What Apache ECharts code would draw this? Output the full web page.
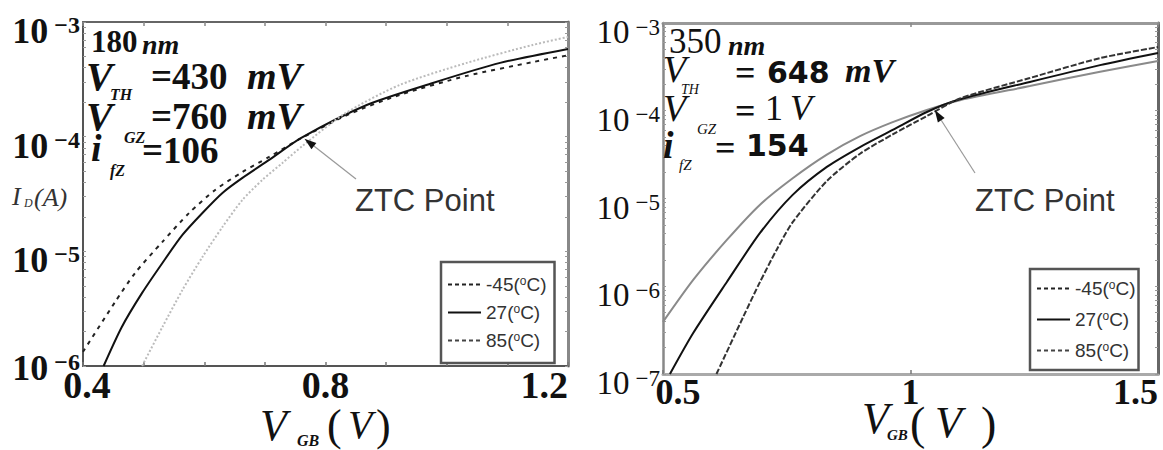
<!DOCTYPE html>
<html><head><meta charset="utf-8">
<script src="https://cdn.jsdelivr.net/npm/echarts@6/dist/echarts.min.js"></script>
<style>html,body{margin:0;padding:0;background:#fff}#c{width:1163px;height:450px}</style>
</head><body><div id="c"></div>
<script>
// ---------- data ----------
const seriesNames = ['-45', '27', '85'];
// left panel (180 nm)
const vL_m45 = [0.400,0.453,0.486,0.531,0.575,0.618,0.663,0.707,0.760,0.840,0.922,1.033,1.142,1.200];
const iL_m45 = [1.33e-6,3.62e-6,6.49e-6,1.21e-5,2.16e-5,3.43e-5,4.92e-5,6.65e-5,9.7e-5,1.58e-4,2.31e-4,3.39e-4,4.47e-4,5.13e-4];
const vL_27 = [0.434,0.464,0.4975,0.531,0.564,0.597,0.630,0.663,0.707,0.760,0.868,0.977,1.088,1.200];
const iL_27 = [1.0e-6,2.19e-6,4.34e-6,7.92e-6,1.39e-5,2.16e-5,3.23e-5,4.37e-5,6.27e-5,9.77e-5,1.89e-4,2.94e-4,4.40e-4,5.82e-4];
const vL_85 = [0.4975,0.531,0.564,0.597,0.630,0.663,0.696,0.729,0.762,0.831,0.922,1.033,1.142,1.200];
const iL_85 = [1.0e-6,2.19e-6,4.60e-6,8.93e-6,1.63e-5,2.81e-5,4.20e-5,5.90e-5,8.3e-5,1.58e-4,2.82e-4,4.40e-4,6.31e-4,7.41e-4];
// right panel (350 nm)
const vR_m45 = [0.500,0.561,0.629,0.696,0.762,0.831,0.898,0.964,1.033,1.100,1.241,1.383,1.500];
const iR_m45 = [3.92e-7,1.18e-6,3.37e-6,8.5e-6,1.70e-5,3.16e-5,5.13e-5,7.41e-5,1.02e-4,1.32e-4,1.91e-4,2.79e-4,3.69e-4];
const vR_27 = [0.514,0.561,0.629,0.696,0.762,0.831,0.898,0.964,1.033,1.100,1.241,1.383,1.500];
const iR_27 = [1.0e-7,2.93e-7,1.12e-6,4.05e-6,1.10e-5,2.29e-5,3.86e-5,6.04e-5,9.68e-5,1.35e-4,2.13e-4,3.31e-4,4.55e-4];
const vR_85 = [0.608,0.662,0.696,0.730,0.762,0.831,0.898,0.964,1.033,1.100,1.241,1.383,1.500];
const iR_85 = [1.0e-7,4.47e-7,1.12e-6,2.63e-6,5.37e-6,1.58e-5,3.24e-5,5.37e-5,8.71e-5,1.38e-4,2.36e-4,3.98e-4,5.32e-4];
// ZTC points
const ztcLeft = [0.762, 1.0e-4];
const ztcRight = [1.045, 1.1e-4];
// tick labels
const leftXTickLabels = ['0.4', '0.8', '1.2'];
const rightXTickLabels = ['0.5', '1', '1.5'];
const leftYTicks = [1e-6, 1e-5, 1e-4, 1e-3];
const leftYExp = ['\u22126', '\u22125', '\u22124', '\u22123'];
const rightYTicks = [1e-7, 1e-6, 1e-5, 1e-4, 1e-3];
const rightYExp = ['\u22127', '\u22126', '\u22125', '\u22124', '\u22123'];

// ---------- helpers ----------
const SERIF = "'Liberation Serif','Times New Roman',serif";
const SANS = "'Liberation Sans',Arial,sans-serif";
const DSANS = "'DejaVu Sans',Verdana,sans-serif";
function pairs(v, i) { return v.map((x, k) => [x, i[k]]); }
function minorTicks(lo, hi) {
  const out = [];
  for (let e = lo; e < hi; e++) for (let m = 1; m <= 9; m++) out.push(m * Math.pow(10, e));
  out.push(Math.pow(10, hi));
  return out;
}
function findIdx(val, ticks) {
  for (let k = 0; k < ticks.length; k++) if (Math.abs(Math.log10(val) - Math.log10(ticks[k])) < 1e-6) return k;
  return -1;
}
function txt(x, y, s, size, o) {
  o = o || {};
  return { type: 'text', x: x, y: y, silent: true, z: 50,
    style: { text: s, fontSize: size, fontFamily: o.family || SERIF, fontWeight: o.weight || 'normal',
      fontStyle: o.style || 'normal', fill: o.color || '#111', align: 'left', verticalAlign: 'middle',
      textAlign: 'left', textVerticalAlign: 'middle' } };
}

const chart = echarts.init(document.getElementById('c'), null, { renderer: 'svg' });

const gridL = { left: 83, top: 22, width: 485, height: 344 };
const gridR = { left: 663, top: 23, width: 495, height: 351 };

function xMain(gi, min, max, interval, col, w, labSize, rich, fmt) {
  return { type: 'value', gridIndex: gi, position: 'bottom', min: min, max: max, interval: interval,
    axisLine: { show: true, onZero: false, lineStyle: { color: col, width: w } },
    axisTick: { show: true, inside: true, length: 4, lineStyle: { color: '#777', width: 1.5 } },
    splitLine: { show: false },
    axisLabel: { show: true, margin: 0, showMinLabel: true, showMaxLabel: true,
      fontFamily: SERIF, fontWeight: 'bold', fontSize: labSize, color: '#111',
      formatter: fmt, rich: rich, alignMaxLabel: 'right' } };
}
function xTop(gi, min, max, interval, col, w) {
  return { type: 'value', gridIndex: gi, position: 'top', min: min, max: max, interval: interval,
    axisLine: { show: true, onZero: false, lineStyle: { color: col, width: w } },
    axisTick: { show: true, inside: true, length: 4, lineStyle: { color: '#888', width: 1.5 } },
    splitLine: { show: false }, axisLabel: { show: false } };
}
function yMain(gi, min, max, ticks, exps, col, w, bold, sz, ssz, minorLo, minorHi, liftMin) {
  const fw = bold ? 'bold' : 'normal';
  return { type: 'log', logBase: 10, gridIndex: gi, position: 'left', min: min, max: max,
    axisLine: { show: true, onZero: false, lineStyle: { color: col, width: w } },
    axisTick: { show: true, inside: true, length: 3, customValues: minorTicks(minorLo, minorHi), lineStyle: { color: '#999', width: 1 } },
    splitLine: { show: false },
    axisLabel: { show: true, margin: 3, customValues: ticks, showMinLabel: true, showMaxLabel: true,
      padding: [18, 0, 0, 0],
      formatter: function (v) {
        const k = findIdx(v, ticks);
        if (k < 0) return '';
        const t = '{b|10}{s|' + exps[k] + '}';
        return (k === 0 && liftMin) ? t + '\n{e| }' : t;
      },
      rich: {
        b: { fontFamily: SERIF, fontWeight: fw, fontSize: sz, color: '#111' },
        s: { fontFamily: SERIF, fontWeight: fw, fontSize: ssz, color: '#111', verticalAlign: 'top', padding: [0, 0, 0, 6] },
        e: { fontSize: 2, lineHeight: 14 }
      } } };
}
function yRight(gi, min, max, col, w, minorLo, minorHi) {
  return { type: 'log', logBase: 10, gridIndex: gi, position: 'right', min: min, max: max,
    axisLine: { show: true, onZero: false, lineStyle: { color: col, width: w } },
    axisTick: { show: true, inside: true, length: 3, customValues: minorTicks(minorLo, minorHi), lineStyle: { color: '#999', width: 1 } },
    splitLine: { show: false }, axisLabel: { show: false } };
}

function xFmt(labels) {
  return function (v) {
    const s = (Math.round(v * 10) / 10).toString();
    if (labels.indexOf(s) < 0) return '';
    return s === labels[0] ? '{l|' + s + '}' : s;
  };
}

function line(name, xi, yi, data, color, type, width) {
  return { name: name, type: 'line', xAxisIndex: xi, yAxisIndex: yi, data: data, symbol: 'none',
    showSymbol: false, smooth: 0.25, clip: true, z: 3,
    itemStyle: { color: color },
    lineStyle: { color: color, type: type, width: width } };
}

function legendCfg(left, top, gap, pad) {
  const noSym = { color: 'rgba(0,0,0,0)', borderWidth: 0, opacity: 0 };
  return { left: left, top: top, orient: 'vertical', itemWidth: 33, itemHeight: 18, itemGap: gap,
    padding: pad, borderColor: '#555', borderWidth: 2.5, backgroundColor: '#fff',
    selectedMode: false, z: 20,
    formatter: function (n) { return n + '({s|o}C)'; },
    textStyle: { fontFamily: SANS, fontSize: 19, color: '#333',
      rich: { s: { fontFamily: SANS, fontSize: 12, color: '#333', verticalAlign: 'top' } } },
    data: [
      { name: seriesNames[0], itemStyle: noSym, lineStyle: { color: '#222', type: [4, 3], width: 2 } },
      { name: seriesNames[1], itemStyle: noSym, lineStyle: { color: '#111', type: 'solid', width: 2 } },
      { name: seriesNames[2], itemStyle: noSym, lineStyle: { color: '#444', type: [4, 3], width: 2 } }
    ] };
}

const texts = [
  // left panel annotation
  txt(91, 41, '180', 31, { weight: 'bold' }),
  txt(142, 44, 'nm', 28, { weight: 'bold', style: 'italic' }),
  txt(86, 76, 'V', 40, { weight: 'bold', style: 'italic' }),
  txt(110, 94, 'TH', 16, { weight: 'bold', style: 'italic' }),
  txt(151, 76, '=430', 37, { weight: 'bold' }),
  txt(247, 76, 'mV', 38, { weight: 'bold', style: 'italic' }),
  txt(86, 116, 'V', 40, { weight: 'bold', style: 'italic' }),
  txt(124, 137, 'GZ', 16, { weight: 'bold', style: 'italic' }),
  txt(151, 116, '=760', 37, { weight: 'bold' }),
  txt(247, 116, 'mV', 38, { weight: 'bold', style: 'italic' }),
  txt(91, 148, 'i', 38, { weight: 'bold', style: 'italic' }),
  txt(110, 170, 'fZ', 16, { weight: 'bold', style: 'italic' }),
  txt(142, 150, '=106', 37, { weight: 'bold' }),
  txt(12, 196, 'I', 26, { style: 'italic', color: '#333' }),
  txt(24, 203, 'D', 12, { style: 'italic', color: '#333' }),
  txt(34, 197, '(A)', 26, { style: 'italic', color: '#333' }),
  txt(355, 200, 'ZTC Point', 31, { family: SANS, color: '#333' }),
  txt(260, 425, 'V', 44, { style: 'italic' }),
  txt(297, 440, 'GB', 16, { weight: 'bold', style: 'italic' }),
  txt(327, 425, '(', 44, {}),
  txt(348, 424, 'V', 40, { style: 'italic' }),
  txt(376, 425, ')', 44, {}),
  // right panel annotation
  txt(669, 41, '350', 35, {}),
  txt(728, 45, 'nm', 28, { weight: 'bold', style: 'italic' }),
  txt(663, 69, 'V', 38, { style: 'italic' }),
  txt(681, 89, 'TH', 14, { style: 'italic' }),
  txt(735, 73, '=', 36, { weight: 'bold' }),
  txt(767, 72, '648', 30, { family: DSANS, weight: 'bold' }),
  txt(845, 70, 'mV', 34, { weight: 'bold', style: 'italic' }),
  txt(663, 108, 'V', 38, { style: 'italic' }),
  txt(697, 129, 'GZ', 15, { style: 'italic' }),
  txt(735, 111, '=', 36, { weight: 'bold' }),
  txt(765, 108, '1', 36, {}),
  txt(790, 108, 'V', 36, { style: 'italic' }),
  txt(663, 145, 'i', 38, { weight: 'bold', style: 'italic' }),
  txt(679, 165, 'fZ', 15, { style: 'italic' }),
  txt(715, 148, '=', 36, { weight: 'bold' }),
  txt(746, 145, '154', 30, { family: DSANS, weight: 'bold' }),
  txt(975, 200, 'ZTC Point', 31, { family: SANS, color: '#333' }),
  txt(862, 418, 'V', 44, { style: 'italic' }),
  txt(887, 435, 'GB', 15, { weight: 'bold', style: 'italic' }),
  txt(910, 423, '(', 46, {}),
  txt(935, 422, 'V', 44, { style: 'italic' }),
  txt(981, 423, ')', 46, {})
];

const option = {
  animation: false,
  backgroundColor: '#fff',
  grid: [gridL, gridR],
  xAxis: [
    xMain(0, 0.4, 1.2, 0.1, '#555', 2, 38, { l: { padding: [0, 0, 0, 8], fontFamily: SERIF, fontWeight: 'bold', fontSize: 38, color: '#111' } }, xFmt(leftXTickLabels)),
    xTop(0, 0.4, 1.2, 0.1, '#666', 2),
    xMain(1, 0.5, 1.5, 0.5, '#aaa', 3, 36, { l: { padding: [0, 0, 0, 30], fontFamily: SERIF, fontWeight: 'bold', fontSize: 36, color: '#111' } }, xFmt(rightXTickLabels)),
    xTop(1, 0.5, 1.5, 0.5, '#999', 3)
  ],
  yAxis: [
    yMain(0, 1e-6, 1e-3, leftYTicks, leftYExp, '#555', 2, true, 36, 24, -6, -3, true),
    yRight(0, 1e-6, 1e-3, '#888', 3, -6, -3),
    yMain(1, 1e-7, 1e-3, rightYTicks, rightYExp, '#888', 2.5, false, 33, 23, -7, -3, false),
    yRight(1, 1e-7, 1e-3, '#666', 3, -7, -3)
  ],
  legend: [legendCfg(441, 262, 9, [13, 8, 13, 6]), legendCfg(1030, 269, 12, [10, 3, 10, 6])],
  series: [
    line(seriesNames[0], 0, 0, pairs(vL_m45, iL_m45), '#222', [4, 5], 2),
    line(seriesNames[1], 0, 0, pairs(vL_27, iL_27), '#111', 'solid', 2),
    line(seriesNames[2], 0, 0, pairs(vL_85, iL_85), '#bbb', [2, 2], 2),
    line(seriesNames[0], 2, 2, pairs(vR_m45, iR_m45), '#8a8a8a', 'solid', 2),
    line(seriesNames[1], 2, 2, pairs(vR_27, iR_27), '#111', 'solid', 2),
    line(seriesNames[2], 2, 2, pairs(vR_85, iR_85), '#333', [6, 2], 2)
  ],
  graphic: texts
};
chart.setOption(option);

function arrow(tail, head) {
  const dx = head[0] - tail[0], dy = head[1] - tail[1];
  const L = Math.sqrt(dx * dx + dy * dy), ux = dx / L, uy = dy / L;
  const hl = 12, hw = 4;
  const bx = head[0] - ux * hl, by = head[1] - uy * hl;
  return [
    { type: 'line', silent: true, z: 40, shape: { x1: tail[0], y1: tail[1], x2: bx, y2: by }, style: { stroke: '#999', lineWidth: 1.2 } },
    { type: 'polygon', silent: true, z: 40, shape: { points: [[head[0], head[1]], [bx - uy * hw, by + ux * hw], [bx + uy * hw, by - ux * hw]] }, style: { fill: '#111' } }
  ];
}
const pL = chart.convertToPixel({ xAxisIndex: 0, yAxisIndex: 0 }, ztcLeft);
const pR = chart.convertToPixel({ xAxisIndex: 2, yAxisIndex: 2 }, ztcRight);
chart.setOption({ graphic: texts.concat(arrow([356, 179], [pL[0] + 2, pL[1] + 2]), arrow([975, 173], [pR[0] + 2, pR[1] + 3])) });
</script>
</body></html>
